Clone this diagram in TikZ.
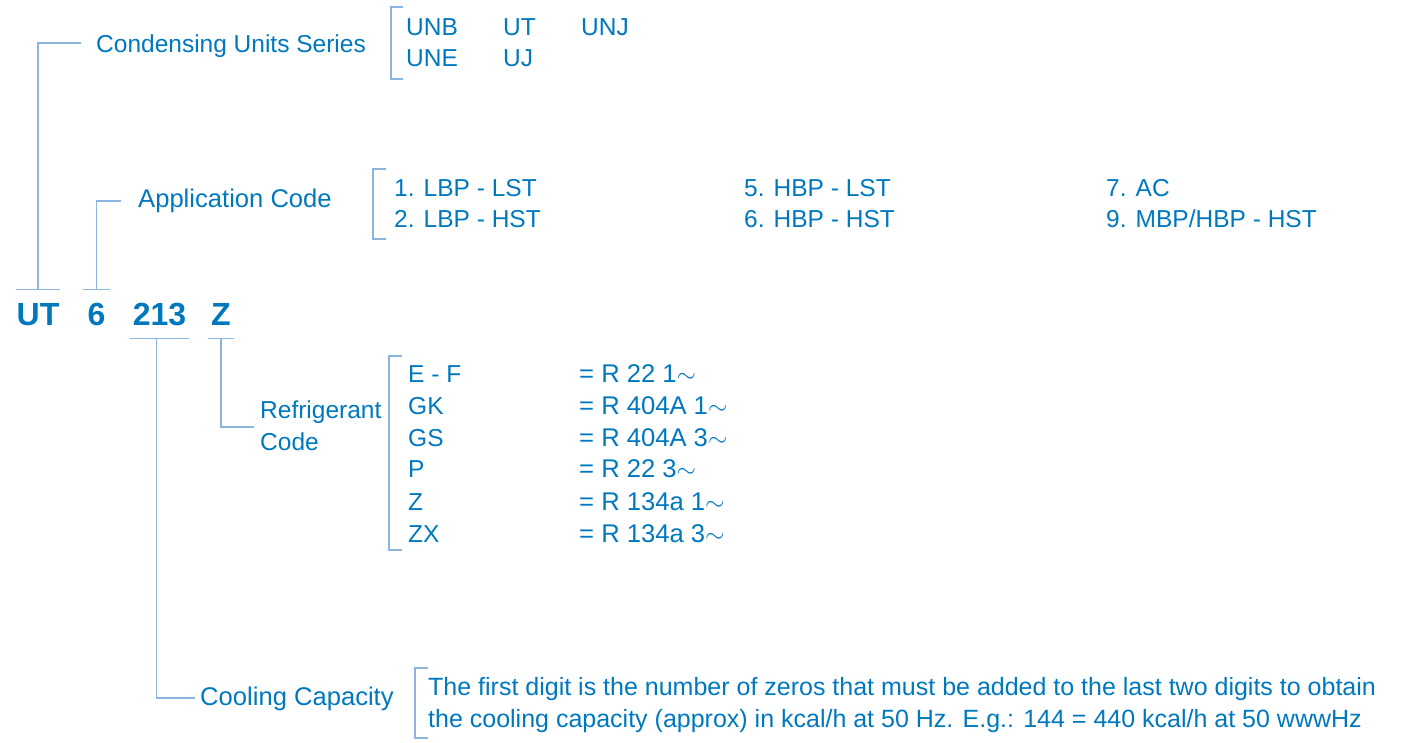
\documentclass[tikz,border=0pt]{standalone}
\usepackage{fontspec}
\setmainfont{Liberation Sans}
\usepackage{tikz}
\usetikzlibrary{positioning}
\usepackage{xcolor}
\definecolor{codeblue}{RGB}{0,120,190}
\definecolor{lineblue}{RGB}{140,180,225}

\begin{document}
\begin{tikzpicture}[x=1pt, y=-1pt,
  txt/.style={codeblue, inner sep=0pt, anchor=base west, font=\fontsize{24.5}{28}\selectfont},
  labeltxt/.style={txt, font=\fontsize{25.6}{30}\selectfont},
  longtxt/.style={txt, font=\fontsize{25}{30}\selectfont},
  part/.style={codeblue, inner xsep=0pt, inner ysep=13pt, text height=22pt, text depth=0pt,
    anchor=base, font=\fontsize{32}{38}\selectfont\bfseries},
  guide/.style={lineblue, line width=1.2pt}]
  \useasboundingbox (0,0) rectangle (1412,743);
  % Model code
  \node[part, minimum width=38pt] (ut) at (38,325) {UT};
  \node[part, minimum width=27pt] (app) at (96.5,325) {6};
  \node[part, minimum width=59pt] (cap) at (159.5,325) {213};
  \node[part, minimum width=26pt] (ref) at (221,325) {Z};
  % Series
  \node[txt] (series) at (96,53) {Condensing Units Series};
  \coordinate (series-in) at (81,43);
  \draw[guide] (ut.north west) -- (ut.north east);
  \draw[guide] (ut.north) |- (series-in);
  \draw[guide] (403,7) -| (391,79) -- (403,79);
  \node[txt] (unb) at (406,36) {UNB};
  \node[txt] (utx) at (503,36) {UT};
  \node[txt] (unj) at (581,36) {UNJ};
  \node[txt] (une) at (406,67) {UNE};
  \node[txt] (uj) at (503,67) {UJ};
  % Application
  \node[labeltxt] (appcode) at (138,208) {Application Code};
  \coordinate (app-in) at (121,201);
  \draw[guide] (app.north west) -- (app.north east);
  \draw[guide] (app.north) |- (app-in);
  \draw[guide] (386,169) -| (373,239) -- (386,239);
  \node[txt] (a1) at (394,197) {1. LBP - LST};
  \node[txt] (a2) at (394,228) {2. LBP - HST};
  \node[txt] (a5) at (744,197) {5. HBP - LST};
  \node[txt] (a6) at (744,228) {6. HBP - HST};
  \node[txt] (a7) at (1106,197) {7. AC};
  \node[txt] (a9) at (1106,228) {9. MBP/HBP - HST};
  % Refrigerant
  \node[txt] (refcode) at (260,418) {Refrigerant};
  \node[txt] (refcode2) at (260,450) {Code};
  \coordinate (ref-in) at (254,427);
  \draw[guide] (ref.south west) -- (ref.south east);
  \draw[guide] (ref.south) |- (ref-in);
  \draw[guide] (402,356) -| (389,550) -- (402,550);
  \node[txt] (r1) at (408,382) {E - F};
  \node[txt] (r2) at (408,414) {GK};
  \node[txt] (r3) at (408,446) {GS};
  \node[txt] (r4) at (408,477) {P};
  \node[txt] (r5) at (408,510) {Z};
  \node[txt] (r6) at (408,542) {ZX};
  \node[labeltxt] (g1) at (579,382) {= R 22 1$\sim$};
  \node[labeltxt] (g2) at (579,414) {= R 404A 1$\sim$};
  \node[labeltxt] (g3) at (579,446) {= R 404A 3$\sim$};
  \node[labeltxt] (g4) at (579,477) {= R 22 3$\sim$};
  \node[labeltxt] (g5) at (579,510) {= R 134a 1$\sim$};
  \node[labeltxt] (g6) at (579,542) {= R 134a 3$\sim$};
  % Capacity
  \node[labeltxt] (capcode) at (200,705) {Cooling Capacity};
  \coordinate (cap-in) at (195,698);
  \draw[guide] (cap.south west) -- (cap.south east);
  \draw[guide] ([xshift=-3pt]cap.south) |- (cap-in);
  \draw[guide] (428,668) -| (415,738) -- (428,738);
  \node[longtxt] (c1) at (428,695) {The first digit is the number of zeros that must be added to the last two digits to obtain};
  \node[longtxt] (c2) at (428,727) {the cooling capacity (approx) in kcal/h at 50 Hz. E.g.: 144 = 440 kcal/h at 50 wwwHz};
\end{tikzpicture}
\end{document}
